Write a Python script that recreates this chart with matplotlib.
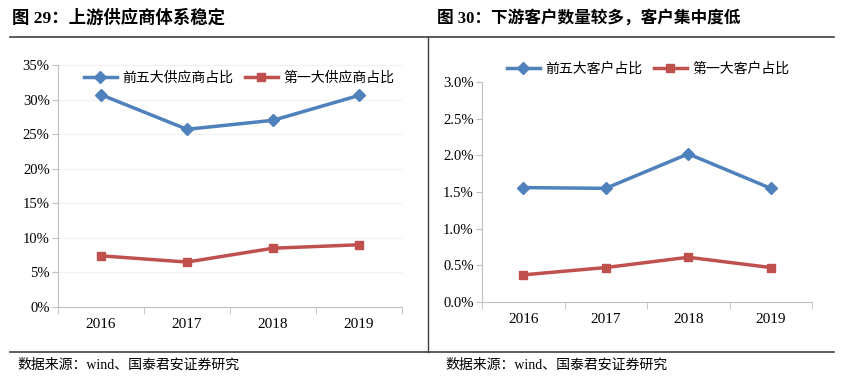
import matplotlib
matplotlib.use("Agg")
import matplotlib.pyplot as plt
from matplotlib.lines import Line2D
from matplotlib.ticker import FuncFormatter, FixedLocator

plt.rcParams['font.family'] = ['Liberation Serif', 'Noto Sans CJK SC']

# ---- data ------------------------------------------------------------------
years = ["2016", "2017", "2018", "2019"]
top5_supplier = [30.7, 25.7, 27.0, 30.6]
top1_supplier = [7.4, 6.5, 8.5, 9.0]
top5_customer = [1.56, 1.55, 2.02, 1.55]
top1_customer = [0.37, 0.47, 0.61, 0.47]

BLUE = "#4F81BD"
RED = "#C0504D"
CJK = ['Noto Sans CJK SC', 'DejaVu Sans']
MIXED = ['Liberation Serif', 'Noto Sans CJK SC']

W, H = 843, 383
fig = plt.figure(figsize=(W / 100, H / 100), dpi=100)


def px_axes(x0, y_top, x1, y_bot):
    return fig.add_axes([x0 / W, 1 - y_bot / H, (x1 - x0) / W, (y_bot - y_top) / H])


def style(ax, ymax, step, fmt, grid):
    ax.set_xlim(-0.5, len(years) - 0.5)
    ax.set_ylim(0, ymax)
    ax.set_xticks(range(len(years)))
    ax.set_xticklabels(years, fontsize=11)
    ax.tick_params(axis='x', which='major', length=0, pad=8)
    ax.xaxis.set_minor_locator(FixedLocator([i - 0.5 for i in range(len(years) + 1)]))
    ax.tick_params(axis='x', which='minor', length=5, color='#bfbfbf')
    ticks = [i * step for i in range(int(round(ymax / step)) + 1)]
    ax.set_yticks(ticks)
    ax.yaxis.set_major_formatter(FuncFormatter(fmt))
    ax.tick_params(axis='y', length=4, color='#bfbfbf', labelsize=10.5, pad=2)
    for s in ('top', 'right'):
        ax.spines[s].set_visible(False)
    for s in ('left', 'bottom'):
        ax.spines[s].set_color('#bfbfbf')
    if grid:
        ax.grid(axis='y', color='#f0f0f0', lw=0.8)
        ax.set_axisbelow(True)


def add_legend(ax, x0, y0):
    ax.legend(loc='upper left', bbox_to_anchor=(x0 / W, 1 - y0 / H), bbox_transform=fig.transFigure,
              ncol=2, frameon=False, prop={'family': CJK, 'size': 10}, handlelength=2.4,
              columnspacing=0.8, handletextpad=0.4, borderaxespad=0)


# ---- left: suppliers -------------------------------------------------------
ax1 = px_axes(58, 65, 402, 307)
x = range(len(years))
ax1.plot(x, top5_supplier, color=BLUE, lw=2.5, marker='D', ms=6, label='前五大供应商占比')
ax1.plot(x, top1_supplier, color=RED, lw=2.5, marker='s', ms=5.5, label='第一大供应商占比')
style(ax1, 35, 5, lambda v, p: f"{v:.0f}%", True)
add_legend(ax1, 78, 65)

# ---- right: customers ------------------------------------------------------
ax2 = px_axes(482, 82, 812, 302)
ax2.plot(x, top5_customer, color=BLUE, lw=2.5, marker='D', ms=6, label='前五大客户占比')
ax2.plot(x, top1_customer, color=RED, lw=2.5, marker='s', ms=5.5, label='第一大客户占比')
style(ax2, 3.0, 0.5, lambda v, p: f"{v:.1f}%", False)
add_legend(ax2, 501, 56)

# ---- frame lines, titles, sources -----------------------------------------
for yy in (37, 352):
    fig.add_artist(Line2D([10 / W, 834 / W], [1 - yy / H] * 2, color='#404040', lw=1.2))
fig.add_artist(Line2D([428 / W] * 2, [1 - 37 / H, 1 - 352 / H], color='#404040', lw=1.0))

fig.text(12 / W, 1 - 18 / H, "图 29：上游供应商体系稳定", fontsize=12.5, fontweight='bold',
         family=MIXED, va='center', ha='left')
fig.text(437 / W, 1 - 18 / H, "图 30：下游客户数量较多，客户集中度低", fontsize=12, fontweight='bold',
         family=MIXED, va='center', ha='left')
fig.text(17 / W, 1 - 365 / H, "数据来源：wind、国泰君安证券研究", fontsize=10,
         family=MIXED, va='center', ha='left')
fig.text(445 / W, 1 - 365 / H, "数据来源：wind、国泰君安证券研究", fontsize=10,
         family=MIXED, va='center', ha='left')

fig.savefig("out.png", dpi=100)
